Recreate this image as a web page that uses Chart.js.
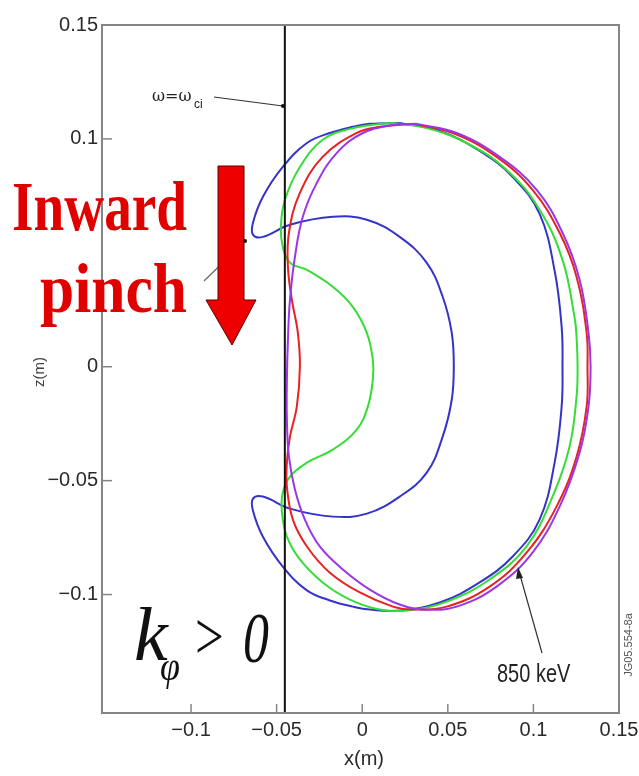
<!DOCTYPE html>
<html>
<head>
<meta charset="utf-8">
<script src="https://cdn.jsdelivr.net/npm/chart.js@4.4.0/dist/chart.umd.min.js"></script>
<style>
  html, body { margin: 0; padding: 0; background: #fff; }
  #wrap { position: relative; width: 639px; height: 776px; }
</style>
</head>
<body>
<div id="wrap"><canvas id="orbitChart"></canvas></div>
<script>
// Axis ticks (m)
const xTicks = [-0.1, -0.05, 0, 0.05, 0.1, 0.15];
const zTicks = [0.15, 0.1, 0, -0.05, -0.1];

// Cyclotron resonance layer (omega = omega_ci)
const resonanceX = -0.0452;

// Orbit traces, [x, z] in metres
const blueOrbit = [
  [0.0219, 0.1070], [0.0044, 0.1066], [-0.0055, 0.1053], [-0.0189, 0.1026], [-0.0323, 0.0982],
  [-0.0464, 0.0877], [-0.0580, 0.0746], [-0.0638, 0.0632], [-0.0638, 0.0579], [-0.0580, 0.0570],
  [-0.0422, 0.0623], [-0.0172, 0.0658], [0.0027, 0.0645], [0.0219, 0.0570], [0.0377, 0.0456],
  [0.0470, 0.0307], [0.0523, 0.0149], [0.0535, 0], [0.0523, -0.0145], [0.0470, -0.0307],
  [0.0377, -0.0465], [0.0219, -0.0570], [0.0027, -0.0645], [-0.0172, -0.0658], [-0.0422, -0.0623],
  [-0.0580, -0.0570], [-0.0638, -0.0579], [-0.0638, -0.0632], [-0.0580, -0.0746], [-0.0464, -0.0877],
  [-0.0323, -0.0982], [-0.0189, -0.1026], [-0.0055, -0.1053], [0.0044, -0.1066], [0.0219, -0.1070],
  [0.0453, -0.1035], [0.0686, -0.0947], [0.0879, -0.0833], [0.1036, -0.0671], [0.1124, -0.0421],
  [0.1165, -0.0175], [0.1170, 0], [0.1165, 0.0175], [0.1124, 0.0421], [0.1036, 0.0671],
  [0.0879, 0.0833], [0.0686, 0.0947], [0.0453, 0.1035], [0.0219, 0.1070]
];
const greenOrbit = [
  [0.0179, 0.1070], [0.0103, 0.1066], [-0.0072, 0.1044], [-0.0231, 0.0996], [-0.0364, 0.0877],
  [-0.0452, 0.0732], [-0.0475, 0.0614], [-0.0464, 0.0526], [-0.0422, 0.0456], [-0.0323, 0.0425],
  [-0.0172, 0.0351], [-0.0055, 0.0263], [0.0027, 0.0149], [0.0062, 0.0031], [0.0062, -0.0057],
  [0.0033, -0.0175], [-0.0032, -0.0276], [-0.0172, -0.0364], [-0.0323, -0.0421], [-0.0422, -0.0482],
  [-0.0464, -0.0553], [-0.0469, -0.0640], [-0.0440, -0.0746], [-0.0364, -0.0846], [-0.0231, -0.0947],
  [-0.0072, -0.1022], [0.0103, -0.1066], [0.0260, -0.1070], [0.0494, -0.1031], [0.0744, -0.0934],
  [0.0960, -0.0789], [0.1112, -0.0570], [0.1211, -0.0351], [0.1252, -0.0132], [0.1258, 0],
  [0.1252, 0.0132], [0.1240, 0.0219], [0.1170, 0.0469], [0.1036, 0.0689], [0.0844, 0.0864],
  [0.0610, 0.0982], [0.0377, 0.1048], [0.0179, 0.1070]
];
const redOrbit = [
  [0.0295, 0.1066], [0.0103, 0.1053], [-0.0032, 0.1026], [-0.0231, 0.0921], [-0.0364, 0.0763],
  [-0.0428, 0.0588], [-0.0434, 0.0439], [-0.0411, 0.0294], [-0.0376, 0.0149], [-0.0364, 0],
  [-0.0382, -0.0175], [-0.0422, -0.0307], [-0.0440, -0.0421], [-0.0440, -0.0526], [-0.0405, -0.0671],
  [-0.0323, -0.0789], [-0.0189, -0.0904], [-0.0014, -0.0991], [0.0179, -0.1053], [0.0295, -0.1066],
  [0.0494, -0.1053], [0.0744, -0.0965], [0.0960, -0.0816], [0.1135, -0.0614], [0.1252, -0.0395],
  [0.1311, -0.0175], [0.1316, 0], [0.1311, 0.0149], [0.1252, 0.0395], [0.1153, 0.0588],
  [0.0995, 0.0776], [0.0785, 0.0921], [0.0529, 0.1026], [0.0295, 0.1066]
];
const purpleOrbit = [
  [0.0319, 0.1066], [0.0179, 0.1061], [0.0004, 0.1026], [-0.0148, 0.0939], [-0.0265, 0.0807],
  [-0.0347, 0.0658], [-0.0393, 0.0482], [-0.0422, 0.0294], [-0.0434, 0.0118], [-0.0440, -0.0057],
  [-0.0440, -0.0232], [-0.0428, -0.0395], [-0.0393, -0.0539], [-0.0335, -0.0671], [-0.0248, -0.0789],
  [-0.0113, -0.0890], [0.0044, -0.0978], [0.0219, -0.1044], [0.0354, -0.1066], [0.0552, -0.1053],
  [0.0785, -0.0965], [0.0995, -0.0816], [0.1153, -0.0614], [0.1270, -0.0377], [0.1322, -0.0175],
  [0.1334, 0], [0.1322, 0.0149], [0.1270, 0.0382], [0.1170, 0.0588], [0.1019, 0.0776],
  [0.0803, 0.0921], [0.0552, 0.1026], [0.0319, 0.1066]
];

const toPoints = arr => arr.map(([x, y]) => ({ x, y }));

function orbitSet(arr, color) {
  return {
    data: toPoints(arr),
    showLine: true,
    borderColor: color,
    borderWidth: 2,
    tension: 0.4,
    pointRadius: 0,
    fill: false
  };
}

function fmtTick(v) {
  if (Math.abs(v) < 1e-9) return '0';
  return (v < 0 ? '\u2212' : '') + String(Math.abs(v));
}

// draws text squeezed horizontally
function squeezed(ctx, text, x, y, font, sx, align) {
  ctx.save();
  ctx.font = font;
  ctx.textAlign = align || 'left';
  ctx.textBaseline = 'alphabetic';
  ctx.translate(x, y);
  ctx.scale(sx, 1);
  ctx.fillText(text, 0, 0);
  ctx.restore();
}

function fitText(ctx, text, right, y, font, width) {
  ctx.save();
  ctx.font = font;
  const w = ctx.measureText(text).width;
  ctx.restore();
  squeezed(ctx, text, right - width, y, font, width / w, 'left');
}

const overlay = {
  id: 'overlay',
  afterDraw(chart) {
    const ctx = chart.ctx;
    const xs = chart.scales.x, ys = chart.scales.y;
    const a = chart.chartArea;
    ctx.save();

    // frame and inward tick marks
    ctx.strokeStyle = '#858585';
    ctx.lineWidth = 2;
    ctx.strokeRect(a.left, a.top, a.right - a.left, a.bottom - a.top);
    ctx.lineWidth = 1.5;
    xs.ticks.forEach(t => {
      const px = xs.getPixelForValue(t.value);
      ctx.beginPath(); ctx.moveTo(px, a.bottom); ctx.lineTo(px, a.bottom - 9); ctx.stroke();
    });
    ys.ticks.forEach(t => {
      const py = ys.getPixelForValue(t.value);
      ctx.beginPath(); ctx.moveTo(a.left, py); ctx.lineTo(a.left + 10, py); ctx.stroke();
    });

    // axis titles
    ctx.fillStyle = '#2a2a2a';
    ctx.font = '20px "Liberation Sans", Arial, sans-serif';
    ctx.textAlign = 'center';
    ctx.textBaseline = 'middle';
    ctx.fillText('x(m)', 364, 759);
    ctx.save();
    ctx.translate(40, 372);
    ctx.rotate(-Math.PI / 2);
    ctx.font = '15px "Liberation Sans", Arial, sans-serif';
    ctx.fillStyle = '#444';
    ctx.fillText('z(m)', 0, 0);
    ctx.restore();

    // omega = omega_ci label and pointer
    ctx.fillStyle = '#222';
    ctx.textAlign = 'left';
    ctx.textBaseline = 'alphabetic';
    ctx.font = '16px "DejaVu Serif", serif';
    ctx.fillText('\u03c9=\u03c9', 152, 101);
    ctx.font = '12px "Liberation Sans", Arial, sans-serif';
    ctx.fillText('ci', 194, 108);
    ctx.strokeStyle = '#333';
    ctx.lineWidth = 1.2;
    ctx.beginPath(); ctx.moveTo(214, 97); ctx.lineTo(283, 106); ctx.stroke();
    ctx.beginPath(); ctx.arc(283, 106, 2, 0, Math.PI * 2); ctx.fillStyle = '#111'; ctx.fill();

    // pointer behind the arrow
    ctx.strokeStyle = '#666';
    ctx.beginPath(); ctx.moveTo(204, 281); ctx.lineTo(245, 241); ctx.stroke();

    // inward pinch arrow
    ctx.beginPath();
    ctx.moveTo(218, 166); ctx.lineTo(244, 166); ctx.lineTo(244, 300); ctx.lineTo(256, 300);
    ctx.lineTo(232, 345); ctx.lineTo(206, 300); ctx.lineTo(218, 300); ctx.closePath();
    ctx.fillStyle = '#ee0000';
    ctx.fill();
    ctx.strokeStyle = '#5a0000';
    ctx.lineWidth = 1;
    ctx.stroke();
    ctx.beginPath(); ctx.arc(245, 241, 2, 0, Math.PI * 2); ctx.fillStyle = '#111'; ctx.fill();

    ctx.fillStyle = '#e00000';
    fitText(ctx, 'Inward', 187, 230, 'bold 70px "Liberation Serif", serif', 175);
    fitText(ctx, 'pinch', 187, 312, 'bold 70px "Liberation Serif", serif', 147);

    // k_phi > 0
    ctx.fillStyle = '#111';
    squeezed(ctx, 'k', 134, 660, 'italic 76px "Liberation Serif", serif', 1.0);
    squeezed(ctx, '\u03c6', 160, 680, 'italic 40px "Liberation Serif", serif', 0.9);
    squeezed(ctx, '>', 195, 659, '68px "Liberation Serif", serif', 0.75);
    squeezed(ctx, '0', 243, 662, 'italic 72px "Liberation Serif", serif', 0.72);

    // energy label and pointer
    ctx.fillStyle = '#222';
    squeezed(ctx, '850 keV', 497, 682, '25px "Liberation Sans", Arial, sans-serif', 0.8);
    ctx.strokeStyle = '#333';
    ctx.lineWidth = 1.2;
    ctx.beginPath(); ctx.moveTo(542, 653); ctx.lineTo(520, 575); ctx.stroke();
    ctx.beginPath();
    ctx.moveTo(518, 567); ctx.lineTo(523, 578); ctx.lineTo(516, 579); ctx.closePath();
    ctx.fillStyle = '#222'; ctx.fill();

    // figure id
    ctx.save();
    ctx.translate(629, 645);
    ctx.rotate(-Math.PI / 2);
    ctx.font = '11px "Liberation Sans", Arial, sans-serif';
    ctx.fillStyle = '#555';
    ctx.textAlign = 'center';
    ctx.textBaseline = 'middle';
    ctx.fillText('JG05.554-8a', 0, 0);
    ctx.restore();

    ctx.restore();
  }
};

const tickFont = { family: '"Liberation Sans", Arial, sans-serif', size: 20 };

new Chart(document.getElementById('orbitChart').getContext('2d'), {
  type: 'scatter',
  data: {
    datasets: [
      {
        data: toPoints([[resonanceX, -0.152], [resonanceX, 0.15]]),
        showLine: true, borderColor: '#111', borderWidth: 2, pointRadius: 0
      },
      orbitSet(purpleOrbit, '#9a35e8'),
      orbitSet(redOrbit, '#e82222'),
      orbitSet(greenOrbit, '#35dd35'),
      orbitSet(blueOrbit, '#3434c8')
    ]
  },
  options: {
    responsive: true,
    maintainAspectRatio: false,
    animation: false,
    layout: { padding: { left: 0, top: 25, right: 20, bottom: 0 } },
    plugins: { legend: { display: false }, tooltip: { enabled: false } },
    scales: {
      x: {
        type: 'linear', min: -0.152, max: 0.15,
        afterBuildTicks: s => { s.ticks = xTicks.map(v => ({ value: v })); },
        afterFit: s => { s.height = 63; s.paddingLeft = 0; s.paddingRight = 0; },
        grid: { display: false, drawTicks: false },
        border: { display: false },
        ticks: { padding: 5, maxRotation: 0, autoSkip: false, color: '#2a2a2a', font: tickFont, callback: fmtTick }
      },
      y: {
        type: 'linear', min: -0.152, max: 0.15,
        afterBuildTicks: s => { s.ticks = zTicks.map(v => ({ value: v })); },
        afterFit: s => { s.width = 102; s.paddingTop = 0; s.paddingBottom = 0; },
        grid: { display: false, drawTicks: false },
        border: { display: false },
        ticks: { padding: 4, autoSkip: false, color: '#2a2a2a', font: tickFont, callback: fmtTick }
      }
    }
  },
  plugins: [overlay]
});
</script>
</body>
</html>
